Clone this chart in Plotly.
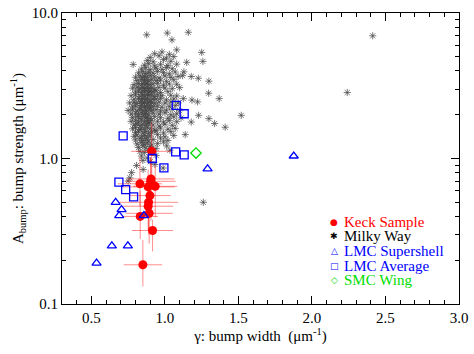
import plotly.graph_objects as go

# Keck sample (red filled circles, with error bars)
keck_x = [0.910, 0.830, 0.905, 0.886, 0.934, 0.903, 0.898, 0.889, 0.886, 0.893, 0.832, 0.916, 0.850]
keck_y = [1.12, 0.67, 0.724, 0.638, 0.644, 0.697, 0.556, 0.500, 0.470, 0.420, 0.400, 0.320, 0.186]
keck_xerr = [0.14, 0.15, 0.16, 0.18, 0.15, 0.17, 0.14, 0.20, 0.17, 0.16, 0.12, 0.14, 0.13]
keck_yerr_up = [0.65, 0.35, 0.30, 0.20, 0.25, 0.30, 0.20, 0.15, 0.20, 0.18, 0.20, 0.06, 0.09]
keck_yerr_dn = [0.40, 0.20, 0.35, 0.25, 0.25, 0.30, 0.15, 0.20, 0.15, 0.16, 0.12, 0.09, 0.054]

# LMC supershell (blue open triangles)
lmc_ss_x = [0.665, 0.705, 0.689, 0.857, 0.639, 0.748, 0.535, 1.290, 1.876]
lmc_ss_y = [0.500, 0.445, 0.405, 0.405, 0.251, 0.251, 0.191, 0.849, 1.040]

# LMC average (blue open squares)
lmc_avg_x = [1.077, 1.131, 0.716, 1.073, 1.131, 0.914, 0.993, 0.687, 0.733, 0.787]
lmc_avg_y = [2.32, 2.03, 1.43, 1.11, 1.06, 1.00, 0.863, 0.687, 0.611, 0.544]

# SMC wing (green open diamond)
smc_x = [1.211]
smc_y = [1.09]

# Milky Way sightlines (x = gamma, y = A_bump)
milky_way = [
    (0.876, 7.08), (1.016, 7.28), (1.159, 7.37), (1.048, 6.54), (1.080, 5.58), (1.250, 5.36),
    (1.258, 4.65), (1.148, 4.58), (0.784, 4.43), (1.129, 3.94), (1.179, 3.66), (1.227, 3.56),
    (1.299, 3.40), (1.297, 2.81), (1.369, 2.58), (1.184, 2.52), (1.222, 2.45), (1.125, 2.58),
    (1.519, 1.98), (1.229, 1.98), (1.299, 1.88), (1.338, 1.74), (1.410, 1.64), (1.179, 1.78),
    (1.138, 1.46), (1.012, 1.22), (1.034, 1.14), (2.413, 6.97), (2.240, 2.84), (1.261, 0.50),
    (0.807, 0.895), (0.852, 0.84), (0.773, 0.80), (0.762, 0.736), (0.750, 0.70), (0.932, 0.91),
    (0.988, 0.86), (0.864, 0.41),
    (0.93, 5.25), (0.98, 5.40), (1.03, 5.20),
    (0.90, 4.95), (0.96, 5.08), (1.01, 4.90), (1.06, 5.02),
    (0.88, 4.72), (0.92, 4.62), (0.99, 4.78), (1.04, 4.66),
    (0.86, 4.38), (0.89, 4.48), (0.93, 4.32), (0.97, 4.44), (1.02, 4.35), (1.08, 4.45),
    (0.84, 4.12), (0.87, 4.20), (0.90, 4.08), (0.94, 4.18), (0.98, 4.10), (1.01, 4.22), (1.05, 4.14),
    (0.82, 3.88), (0.85, 3.95), (0.87, 3.84), (0.89, 3.92), (0.92, 3.86), (0.95, 3.97), (0.99, 3.89),
    (1.03, 3.82), (1.07, 3.93),
    (0.80, 3.62), (0.83, 3.70), (0.85, 3.60), (0.86, 3.68), (0.88, 3.63), (0.90, 3.72), (0.93, 3.64),
    (0.96, 3.58), (1.00, 3.69), (1.04, 3.61), (1.09, 3.66), (1.12, 3.71),
    (0.81, 3.44), (0.84, 3.49), (0.86, 3.40), (0.87, 3.47), (0.89, 3.42), (0.91, 3.50), (0.94, 3.43),
    (0.97, 3.46), (1.01, 3.39), (1.06, 3.48),
    (0.79, 3.22), (0.82, 3.28), (0.84, 3.20), (0.85, 3.27), (0.87, 3.23), (0.88, 3.30), (0.90, 3.21),
    (0.92, 3.26), (0.95, 3.29), (0.99, 3.19), (1.03, 3.25), (1.08, 3.24),
    (0.78, 3.04), (0.81, 3.09), (0.83, 3.01), (0.85, 3.07), (0.86, 3.02), (0.88, 3.10), (0.89, 3.03),
    (0.91, 3.06), (0.93, 3.00), (0.96, 3.08), (1.00, 3.05), (1.05, 3.02), (1.10, 3.07),
    (0.80, 2.86), (0.82, 2.91), (0.84, 2.84), (0.86, 2.89), (0.87, 2.93), (0.89, 2.85), (0.90, 2.90),
    (0.92, 2.87), (0.94, 2.92), (0.97, 2.84), (1.02, 2.88),
    (0.77, 2.70), (0.80, 2.75), (0.83, 2.68), (0.85, 2.74), (0.86, 2.69), (0.88, 2.76), (0.89, 2.71),
    (0.91, 2.73), (0.93, 2.67), (0.95, 2.74), (0.98, 2.70), (1.04, 2.72), (1.08, 2.69),
    (0.79, 2.55), (0.82, 2.59), (0.84, 2.53), (0.85, 2.58), (0.87, 2.54), (0.88, 2.60), (0.90, 2.52),
    (0.92, 2.57), (0.94, 2.55), (0.97, 2.59), (1.01, 2.53), (1.06, 2.56),
    (0.76, 2.41), (0.79, 2.44), (0.81, 2.39), (0.83, 2.45), (0.85, 2.40), (0.86, 2.43), (0.88, 2.38),
    (0.89, 2.46), (0.91, 2.42), (0.93, 2.39), (0.96, 2.44), (1.00, 2.40), (1.04, 2.45), (1.09, 2.41),
    (0.78, 2.27), (0.80, 2.30), (0.83, 2.25), (0.84, 2.31), (0.86, 2.26), (0.87, 2.29), (0.89, 2.24),
    (0.90, 2.32), (0.92, 2.27), (0.95, 2.30), (0.98, 2.25), (1.03, 2.28), (1.07, 2.31),
    (0.75, 2.14), (0.78, 2.17), (0.81, 2.12), (0.83, 2.18), (0.85, 2.13), (0.87, 2.16), (0.88, 2.11),
    (0.90, 2.19), (0.91, 2.14), (0.94, 2.17), (0.97, 2.12), (1.01, 2.15), (1.05, 2.18), (1.10, 2.13),
    (0.77, 2.02), (0.80, 2.05), (0.82, 2.00), (0.84, 2.06), (0.86, 2.01), (0.87, 2.04), (0.89, 1.99),
    (0.92, 2.05), (0.96, 2.02), (1.00, 2.06), (1.04, 2.00), (1.08, 2.03),
    (0.78, 1.91), (0.81, 1.94), (0.83, 1.89), (0.85, 1.95), (0.87, 1.90), (0.88, 1.93), (0.90, 1.88),
    (0.93, 1.94), (0.97, 1.91), (1.02, 1.89), (1.06, 1.93), (1.11, 1.90),
    (0.77, 1.80), (0.80, 1.83), (0.82, 1.78), (0.84, 1.84), (0.86, 1.79), (0.88, 1.82), (0.89, 1.77),
    (0.91, 1.83), (0.95, 1.80), (0.99, 1.78), (1.03, 1.82), (1.08, 1.79),
    (0.79, 1.70), (0.81, 1.73), (0.83, 1.68), (0.85, 1.72), (0.87, 1.69), (0.89, 1.74), (0.92, 1.70),
    (0.96, 1.67), (1.00, 1.72), (1.05, 1.69),
    (0.78, 1.60), (0.80, 1.63), (0.83, 1.58), (0.84, 1.62), (0.86, 1.59), (0.88, 1.64), (0.90, 1.60),
    (0.93, 1.57), (0.97, 1.62), (1.02, 1.59), (1.07, 1.61),
    (0.80, 1.51), (0.82, 1.54), (0.85, 1.50), (0.87, 1.53), (0.89, 1.49), (0.91, 1.52), (0.94, 1.55),
    (0.99, 1.50), (1.04, 1.53),
    (0.79, 1.42), (0.81, 1.45), (0.84, 1.41), (0.86, 1.44), (0.88, 1.40), (0.90, 1.43), (0.95, 1.46),
    (1.00, 1.41), (1.06, 1.44),
    (0.80, 1.34), (0.83, 1.37), (0.85, 1.33), (0.87, 1.36), (0.89, 1.32), (0.92, 1.35), (0.97, 1.38),
    (1.02, 1.33),
    (0.81, 1.26), (0.84, 1.29), (0.86, 1.25), (0.88, 1.28), (0.91, 1.24), (0.95, 1.27), (0.99, 1.30),
    (0.82, 1.19), (0.85, 1.22), (0.87, 1.18), (0.90, 1.21), (0.94, 1.17),
    (0.83, 1.12), (0.86, 1.10), (0.89, 1.14),
    (0.84, 1.04), (0.88, 1.01), (0.94, 1.05),
    (0.85, 0.97), (0.90, 0.95),
]
mw_x = [p[0] for p in milky_way]
mw_y = [p[1] for p in milky_way]

# legend rows: (symbol, label, colour)
legend_rows = [
    ("\u25CF", "Keck Sample", "#ff0000"),
    ("\u2731", "Milky Way", "#000000"),
    ("\u25B3", "LMC Supershell", "#0000ff"),
    ("\u25A1", "LMC Average", "#0000ff"),
    ("\u25C7", "SMC Wing", "#00dd00"),
]

SERIF = "Liberation Serif"

fig = go.Figure()

fig.add_trace(go.Scatter(
    x=mw_x, y=mw_y, mode="markers", name="Milky Way",
    marker=dict(symbol="asterisk-open", size=6, color="#444",
                line=dict(color="#444", width=0.7)),
))

fig.add_trace(go.Scatter(
    x=keck_x, y=keck_y, mode="markers", name="Keck Sample",
    marker=dict(symbol="circle", size=9, color="#ff0000"),
    error_x=dict(type="data", array=keck_xerr, color="rgba(255,0,0,0.45)",
                 thickness=1, width=0),
    error_y=dict(type="data", array=keck_yerr_up, arrayminus=keck_yerr_dn,
                 symmetric=False, color="rgba(255,0,0,0.45)", thickness=1, width=0),
))

fig.add_trace(go.Scatter(
    x=lmc_ss_x, y=lmc_ss_y, mode="markers", name="LMC Supershell",
    marker=dict(symbol="triangle-up-open", size=8, color="#0000ff",
                line=dict(color="#0000ff", width=1.3)),
))

fig.add_trace(go.Scatter(
    x=lmc_avg_x, y=lmc_avg_y, mode="markers", name="LMC Average",
    marker=dict(symbol="square-open", size=8, color="#0000ff",
                line=dict(color="#0000ff", width=1.3)),
))

fig.add_trace(go.Scatter(
    x=smc_x, y=smc_y, mode="markers", name="SMC Wing",
    marker=dict(symbol="diamond-open", size=8, color="#00dd00",
                line=dict(color="#00dd00", width=1.3)),
))

# legend drawn as text rows (tight IDL-style spacing)
plot_top, plot_bottom = 13, 304
row_px = [221.5, 236.2, 250.9, 265.6, 280.3]
for (sym, label, col), py in zip(legend_rows, row_px):
    yp = (plot_bottom - py) / (plot_bottom - plot_top)
    fig.add_annotation(xref="paper", yref="paper", x=(334 - 62) / 397, y=yp,
                       text=sym, showarrow=False, xanchor="center", yanchor="middle",
                       font=dict(family="DejaVu Sans", size=9, color=col))
    fig.add_annotation(xref="paper", yref="paper", x=(342 - 62) / 397, y=yp,
                       text=label, showarrow=False, xanchor="left", yanchor="middle",
                       font=dict(family=SERIF, size=15, color=col))

axis_common = dict(
    showline=True, linecolor="black", linewidth=1, mirror="allticks",
    ticks="inside", tickcolor="black", showgrid=False, zeroline=False,
    automargin=False,
    tickfont=dict(family=SERIF, size=15, color="black"),
)

fig.update_xaxes(
    range=[0.3, 3.0], tickvals=[0.5, 1.0, 1.5, 2.0, 2.5, 3.0],
    ticktext=["0.5", "1.0", "1.5", "2.0", "2.5", "3.0"], ticklen=8,
    minor=dict(ticks="inside", ticklen=4, tickcolor="black",
               tickvals=[0.4, 0.6, 0.7, 0.8, 0.9, 1.1, 1.2, 1.3, 1.4, 1.6, 1.7, 1.8, 1.9,
                         2.1, 2.2, 2.3, 2.4, 2.6, 2.7, 2.8, 2.9]),
    title=dict(text="\u03b3: bump width  (\u03bcm<sup>-1</sup>)", standoff=4,
               font=dict(family=SERIF, size=15, color="black")),
    **axis_common,
)

fig.update_yaxes(
    type="log", range=[-1, 1], tickvals=[0.1, 1, 10], ticktext=["0.1", "1.0", "10.0"],
    ticklen=8,
    minor=dict(ticks="inside", ticklen=4, tickcolor="black",
               tickvals=[0.2, 0.3, 0.4, 0.5, 0.6, 0.7, 0.8, 0.9, 2, 3, 4, 5, 6, 7, 8, 9]),
    title=dict(text="A<sub>bump</sub>: bump strength (\u03bcm<sup>-1</sup>)", standoff=4,
               font=dict(family=SERIF, size=15, color="black")),
    **axis_common,
)

fig.update_layout(
    width=474, height=354,
    margin=dict(l=62, r=15, t=13, b=50),
    paper_bgcolor="white", plot_bgcolor="white",
    showlegend=False,
)

# drop the default 8px body margin so the figure fills the window
fig.write_html("out.html", config={"displayModeBar": False},
               post_script="document.body.style.margin='0px';")
